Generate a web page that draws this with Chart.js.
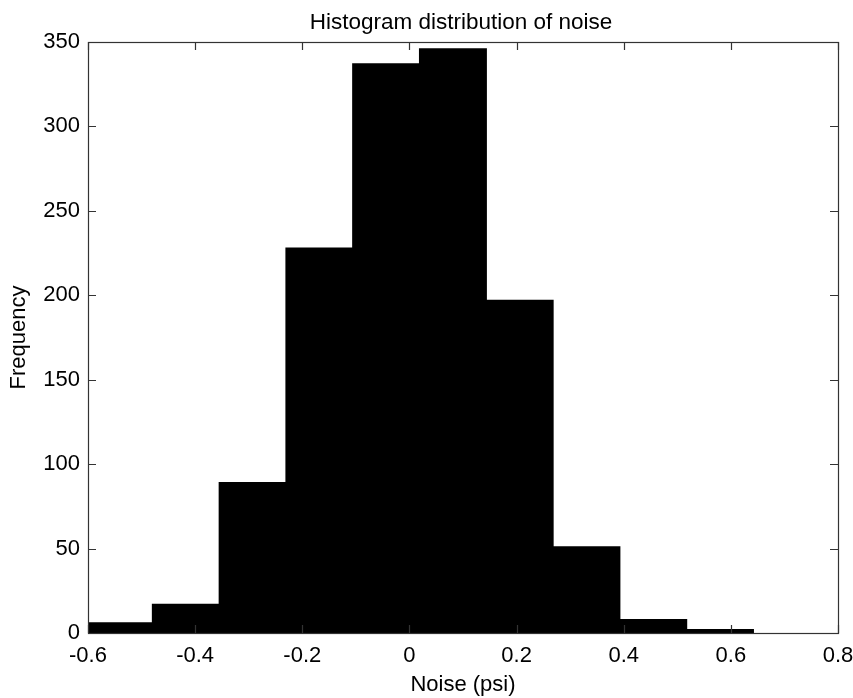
<!DOCTYPE html>
<html>
<head>
<meta charset="utf-8">
<script src="https://cdn.jsdelivr.net/npm/chart.js@4"></script>
<style>
  html, body { margin: 0; padding: 0; background: #fff; }
  #wrap { width: 853px; height: 698px; }
</style>
</head>
<body>
<div id="wrap"><canvas id="c" width="853" height="698"></canvas></div>
<script>
// Histogram data (bin centres and counts)
const binCenters = [-0.5420, -0.4174, -0.2927, -0.1681, -0.0435, 0.0812, 0.2058, 0.3304, 0.4551, 0.5797];
const frequencies = [6, 17, 89, 228, 337, 346, 197, 51, 8, 2];
const xTicks = [-0.6, -0.4, -0.2, 0, 0.2, 0.4, 0.6, 0.8];
const yTicks = [0, 50, 100, 150, 200, 250, 300, 350];
const titleText = 'Histogram distribution of noise';

const FONT = '"Liberation Sans", Arial, Helvetica, sans-serif';
const AXIS_COLOR = '#333';

const boxAndTicks = {
  id: 'boxAndTicks',
  afterDatasetsDraw(chart) {
    const {ctx, chartArea: a, scales: {x, y}} = chart;
    const L = 8;
    ctx.save();
    ctx.strokeStyle = AXIS_COLOR;
    ctx.lineWidth = 1.2;
    ctx.beginPath();
    xTicks.forEach(v => {
      const px = Math.round(x.getPixelForValue(v)) + 0.5;
      ctx.moveTo(px, a.bottom); ctx.lineTo(px, a.bottom - L);
      ctx.moveTo(px, a.top); ctx.lineTo(px, a.top + L);
    });
    yTicks.forEach(v => {
      const py = Math.round(y.getPixelForValue(v)) + 0.5;
      ctx.moveTo(a.left, py); ctx.lineTo(a.left + L, py);
      ctx.moveTo(a.right, py); ctx.lineTo(a.right - L, py);
    });
    ctx.stroke();
    ctx.strokeRect(Math.round(a.left) + 0.5, Math.round(a.top) + 0.5,
                   Math.round(a.right - a.left), Math.round(a.bottom - a.top));
    // title centred over the plot area
    ctx.fillStyle = '#000';
    ctx.font = '22.5px ' + FONT;
    ctx.textAlign = 'center';
    ctx.textBaseline = 'alphabetic';
    ctx.fillText(titleText, (a.left + a.right) / 2 - 2, 29);
    ctx.restore();
  }
};

new Chart(document.getElementById('c'), {
  type: 'bar',
  data: {
    datasets: [{
      data: binCenters.map((c, i) => ({x: c, y: frequencies[i]})),
      backgroundColor: '#000',
      borderWidth: 0,
      inflateAmount: 0.6,
      barPercentage: 1,
      categoryPercentage: 1
    }]
  },
  options: {
    responsive: false,
    animation: false,
    layout: { padding: { left: 0, right: 15, top: 42, bottom: 0 } },
    plugins: {
      legend: { display: false },
      tooltip: { enabled: false },
      title: { display: false }
    },
    scales: {
      x: {
        type: 'linear',
        offset: false,
        min: -0.6, max: 0.8,
        afterBuildTicks(s) { s.ticks = xTicks.map(v => ({value: v})); },
        afterFit(s) { s.height = 65; s.paddingLeft = 0; s.paddingRight = 0; },
        grid: { display: false, drawTicks: false, offset: false },
        border: { display: false },
        ticks: {
          color: '#000',
          padding: 10,
          maxRotation: 0,
          autoSkip: false,
          font: { family: FONT, size: 22 },
          callback: v => (Math.abs(v) < 1e-9 ? '0' : String(Math.round(v * 10) / 10))
        },
        title: {
          display: true, text: 'Noise (psi)', color: '#000',
          font: { family: FONT, size: 22, lineHeight: 1.2 },
          padding: { top: 0, bottom: 0 }
        }
      },
      y: {
        min: 0, max: 350,
        afterBuildTicks(s) { s.ticks = yTicks.map(v => ({value: v})); },
        afterFit(s) { s.width = 88; s.paddingTop = 0; s.paddingBottom = 0; },
        grid: { display: false, drawTicks: false },
        border: { display: false },
        ticks: {
          color: '#000',
          padding: 8,
          autoSkip: false,
          font: { family: FONT, size: 22 }
        },
        title: {
          display: true, text: 'Frequency', color: '#000',
          font: { family: FONT, size: 22, lineHeight: 1.2 },
          padding: { top: 6, bottom: 0 }
        }
      }
    }
  },
  plugins: [boxAndTicks]
});
</script>
</body>
</html>
